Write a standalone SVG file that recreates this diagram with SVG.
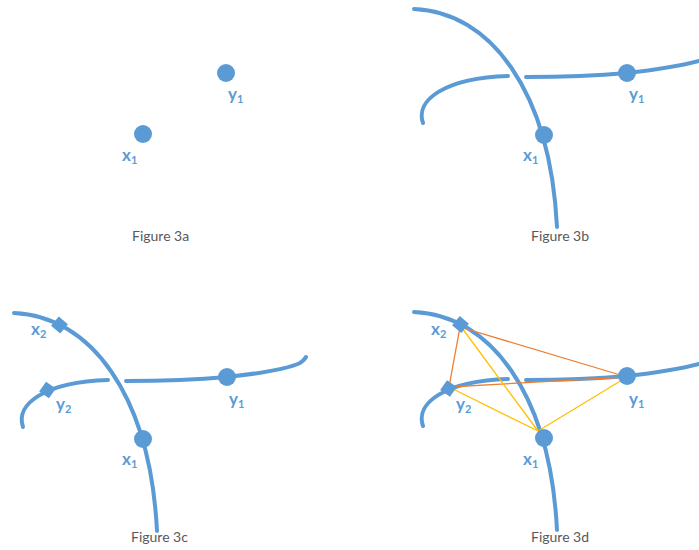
<svg xmlns="http://www.w3.org/2000/svg" width="699" height="550" viewBox="0 0 699 550">
<style>
.curve{fill:none;stroke:#5B9BD5;stroke-width:4;stroke-linecap:round}
.dot{fill:#5B9BD5}
.lbl{font-family:Lato,"Liberation Sans",sans-serif;font-size:17px;font-weight:bold;fill:#5B9BD5}
.sub{font-size:11px}
.cap{font-family:Lato,"Liberation Sans",sans-serif;font-size:14px;fill:#595959}
.or{stroke:#ED7D31;stroke-width:1.3;fill:none}
.ye{stroke:#FFC000;stroke-width:1.3;fill:none}
</style>
<defs>
<path id="xcurve" d="M414,9 C490,12 550,90 557,227"/>
<path id="yleft" d="M423,123 C415,100 445,78 508,76"/>
<path id="yright" d="M526,77 C570,77 605,75 627,73 C655,70 680,66 699,61"/>
</defs>
<rect width="699" height="550" fill="#FFFFFF"/>

<g id="curves">
  <use href="#xcurve" class="curve"/>
  <use href="#yleft" class="curve"/>
  <use href="#yright" class="curve"/>
  <g transform="translate(-400,304)">
    <use href="#xcurve" class="curve"/>
    <use href="#yleft" class="curve"/>
  </g>
  <path class="curve" d="M126,381 C170,381 205,379 227,377 C255,374 285,370 300,363 C303,361 305,359 306,357"/>
  <g transform="translate(0,303)">
    <use href="#xcurve" class="curve"/>
    <use href="#yleft" class="curve"/>
    <use href="#yright" class="curve"/>
  </g>
</g>

<g id="connectors">
  <line class="or" x1="460" y1="327" x2="627" y2="377"/>
  <line class="or" x1="460" y1="327" x2="449" y2="387"/>
  <line class="or" x1="449" y1="387" x2="627" y2="377"/>
  <line class="ye" x1="462" y1="328" x2="538" y2="431"/>
  <line class="ye" x1="449" y1="387" x2="538" y2="431"/>
  <line class="ye" x1="627" y1="377" x2="538" y2="431"/>
</g>

<g id="a-x1"><circle class="dot" cx="143" cy="134" r="9"/><text class="lbl" x="122" y="161">x<tspan class="sub" dy="3">1</tspan></text></g>
<g id="a-y1"><circle class="dot" cx="226" cy="73" r="9"/><text class="lbl" x="228" y="100">y<tspan class="sub" dy="3">1</tspan></text></g>
<g id="cap-a"><text class="cap" x="132" y="241">Figure 3a</text></g>

<g id="b-x1"><circle class="dot" cx="544" cy="135" r="9"/><text class="lbl" x="523" y="161">x<tspan class="sub" dy="3">1</tspan></text></g>
<g id="b-y1"><circle class="dot" cx="627" cy="73" r="9"/><text class="lbl" x="629" y="100">y<tspan class="sub" dy="3">1</tspan></text></g>
<g id="cap-b"><text class="cap" x="531" y="241">Figure 3b</text></g>

<g id="c-x1"><circle class="dot" cx="143" cy="439" r="9"/><text class="lbl" x="122" y="465">x<tspan class="sub" dy="3">1</tspan></text></g>
<g id="c-y1"><circle class="dot" cx="227" cy="377" r="9"/><text class="lbl" x="229" y="405">y<tspan class="sub" dy="3">1</tspan></text></g>
<g id="c-x2"><rect class="dot" x="53.5" y="319" width="12" height="12" transform="rotate(40 59.5 325)"/><text class="lbl" x="31" y="335">x<tspan class="sub" dy="3">2</tspan></text></g>
<g id="c-y2"><rect class="dot" x="41.5" y="384" width="12" height="12" transform="rotate(35 47.5 390)"/><text class="lbl" x="56" y="410">y<tspan class="sub" dy="3">2</tspan></text></g>
<g id="cap-c"><text class="cap" x="131" y="542">Figure 3c</text></g>

<g id="d-x1"><circle class="dot" cx="544" cy="438" r="9"/><text class="lbl" x="523" y="465">x<tspan class="sub" dy="3">1</tspan></text></g>
<g id="d-y1"><circle class="dot" cx="627" cy="376" r="9"/><text class="lbl" x="629" y="405">y<tspan class="sub" dy="3">1</tspan></text></g>
<g id="d-x2"><rect class="dot" x="454.5" y="318.5" width="12" height="12" transform="rotate(40 460.5 324.5)"/><text class="lbl" x="431" y="335">x<tspan class="sub" dy="3">2</tspan></text></g>
<g id="d-y2"><rect class="dot" x="442.5" y="382.5" width="12" height="12" transform="rotate(35 448.5 388.5)"/><text class="lbl" x="456" y="410">y<tspan class="sub" dy="3">2</tspan></text></g>
<g id="cap-d"><text class="cap" x="531" y="542">Figure 3d</text></g>
</svg>
